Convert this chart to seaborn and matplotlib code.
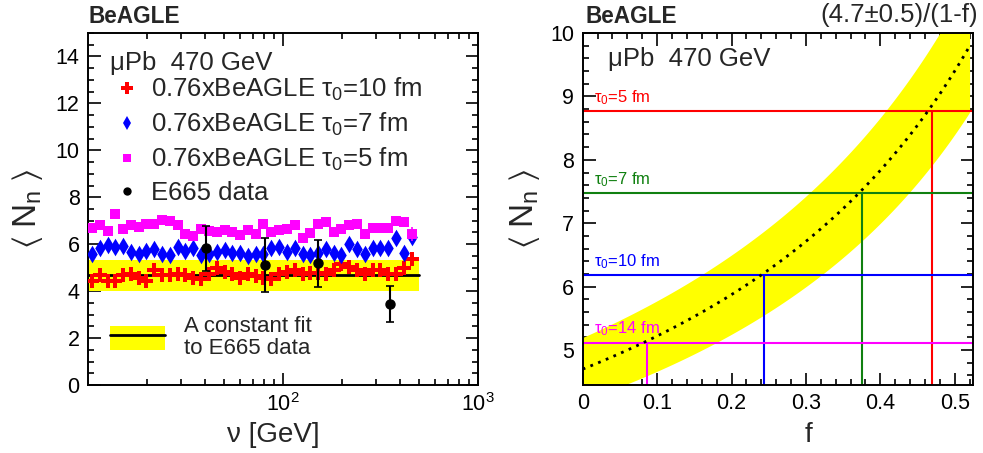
import numpy as np
import pandas as pd
import matplotlib
matplotlib.use("Agg")
import matplotlib.pyplot as plt
import seaborn as sns
from matplotlib.patches import Patch
from matplotlib.lines import Line2D
from matplotlib.legend_handler import HandlerTuple
from matplotlib.ticker import FixedLocator, MultipleLocator, NullFormatter

# ---------------- data ----------------
nu = [10.47, 11.48, 12.59, 13.80, 15.14, 16.60, 18.20, 19.95, 21.88, 23.99,
      26.30, 28.84, 31.62, 34.67, 38.02, 41.69, 45.71, 50.12, 54.95, 60.26,
      66.07, 72.44, 79.43, 87.10, 95.50, 104.7, 114.8, 125.9, 138.0, 151.4,
      166.0, 182.0, 199.5, 218.8, 239.9, 263.0, 288.4, 316.2, 346.7, 380.2,
      416.9, 457.1]
tau10 = [4.45, 4.67, 4.45, 4.45, 4.67, 4.75, 4.57, 4.45, 4.88, 4.68,
         4.68, 4.75, 4.67, 4.57, 4.50, 4.75, 4.97, 4.83, 4.75, 4.57,
         4.75, 4.64, 4.54, 4.50, 4.71, 4.83, 4.88, 4.71, 4.78, 4.78,
         4.75, 4.88, 5.14, 5.02, 4.88, 4.74, 4.88, 4.88, 4.75, 4.74,
         4.97, 5.35]
tau7 = [5.57, 5.82, 5.97, 5.88, 5.92, 5.67, 5.57, 5.71, 5.78, 5.57,
        5.52, 5.88, 5.71, 5.82, 5.52, 5.60, 5.67, 5.74, 5.61, 5.61,
        5.50, 5.57, 5.60, 5.82, 5.88, 5.68, 5.82, 5.57, 5.52, 5.61,
        5.78, 5.61, 5.52, 6.00, 5.78, 5.57, 5.82, 5.82, 5.85, 6.25,
        5.61, 6.31]
tau5 = [6.71, 6.81, 6.57, 7.28, 6.64, 6.81, 6.74, 6.85, 6.85, 7.02,
        6.97, 6.81, 6.42, 6.33, 6.64, 6.57, 6.54, 6.60, 6.50, 6.38,
        6.61, 6.45, 6.88, 6.54, 6.60, 6.64, 6.81, 6.28, 6.47, 6.85,
        6.95, 6.50, 6.64, 6.82, 6.88, 6.42, 6.71, 6.71, 6.71, 6.97,
        6.93, 6.45]
last_err = [0.20, 0.30, 0.30]  # error on last point of tau10, tau7, tau5

e665_nu = [40.3, 80.9, 150.7, 354.0]
e665_val = [5.82, 5.11, 5.18, 3.47]
e665_err = [0.97, 1.15, 1.02, 0.77]

fit_value = 4.67
fit_err = 0.67
fit_range = [10, 500]

# right panel
f_par, f_err = 4.7, 0.5
f_max = 0.52
tau_labels = ["τ$_0$=5 fm", "τ$_0$=7 fm", "τ$_0$=10 fm", "τ$_0$=14 fm"]
tau_levels = [8.77, 7.48, 6.18, 5.12]
tau_f = [0.469, 0.376, 0.244, 0.086]
tau_colors = ["#ff0000", "#108010", "#0000ff", "#ff00ff"]

# ---------------- style ----------------
sns.set_theme(style="ticks")
plt.rcParams["font.family"] = ["Liberation Sans", "DejaVu Sans"]
plt.rcParams["mathtext.fontset"] = "custom"
plt.rcParams["mathtext.rm"] = "Liberation Sans"
plt.rcParams["mathtext.it"] = "Liberation Sans:italic"
plt.rcParams["mathtext.default"] = "regular"
plt.rcParams["axes.linewidth"] = 1.4
plt.rcParams["axes.edgecolor"] = "black"

FS = 18.5     # legend / annotation text
TFS = 15.5    # tick labels
W, H = 983, 453
fig = plt.figure(figsize=(W / 100, H / 100), dpi=100)

def ax_rect(l, r, t, b):
    return [l / W, (H - b) / H, (r - l) / W, (b - t) / H]

axL = fig.add_axes(ax_rect(88, 478, 33, 385))
axR = fig.add_axes(ax_rect(582.7, 973.3, 33, 385))

for ax in (axL, axR):
    ax.tick_params(which="both", direction="in", top=True, right=True,
                   colors="black", labelsize=TFS, width=1.2)
    ax.tick_params(which="major", length=9, pad=6)
    ax.tick_params(which="minor", length=4.5)
    for s in ax.spines.values():
        s.set_linewidth(1.4)
        s.set_color("black")

# ---------------- left panel ----------------
axL.set_xscale("log")
axL.set_xlim(10, 1000)
axL.set_ylim(0, 15)
axL.fill_between(fit_range, fit_value - fit_err, fit_value + fit_err,
                 color="#ffff00", lw=0, zorder=1)
axL.plot(fit_range, [fit_value, fit_value], color="black", lw=2, zorder=2)

df = pd.DataFrame({"nu": nu * 3, "val": tau10 + tau7 + tau5,
                   "series": ["t10"] * len(nu) + ["t7"] * len(nu) + ["t5"] * len(nu)})
sty = {"t10": ("P", "#ff0000", 105), "t7": ("d", "#0000ff", 80), "t5": ("s", "#ff00ff", 52)}
for (key, (mk, col, sz)), err in zip(sty.items(), last_err):
    sub = df[df.series == key]
    sns.scatterplot(data=sub, x="nu", y="val", marker=mk, color=col, s=sz,
                    linewidth=0, ax=axL, zorder=3)
    axL.errorbar(sub.nu.iloc[-1], sub.val.iloc[-1], yerr=err, fmt="none",
                 ecolor=col, elinewidth=1.2, zorder=3)

axL.errorbar(e665_nu, e665_val, yerr=e665_err, fmt="o", color="black",
             ms=6.5, elinewidth=1.5, capsize=3, capthick=1.2, zorder=4)

axL.xaxis.set_major_locator(FixedLocator([100, 1000]))
axL.xaxis.set_minor_locator(FixedLocator([20, 30, 40, 50, 60, 70, 80, 90,
                                          200, 300, 400, 500, 600, 700, 800, 900]))
axL.xaxis.set_minor_formatter(NullFormatter())
axL.set_xticklabels(["$10^{2}$", "$10^{3}$"])
axL.yaxis.set_major_locator(MultipleLocator(2))
axL.yaxis.set_minor_locator(MultipleLocator(0.5))
axL.set_xlabel("")
axL.set_ylabel("")

# legend
h_red = Line2D([], [], marker="P", color="#ff0000", ls="none", ms=8, mew=0)
h_blue = Line2D([], [], marker="d", color="#0000ff", ls="none", ms=7, mew=0)
h_mag = Line2D([], [], marker="s", color="#ff00ff", ls="none", ms=6, mew=0)
h_blk = Line2D([], [], marker="o", color="black", ls="none", ms=6, mew=0)
leg1 = axL.legend([h_red, h_blue, h_mag, h_blk],
                  ["0.76xBeAGLE τ$_0$=10 fm", "0.76xBeAGLE τ$_0$=7 fm",
                   "0.76xBeAGLE τ$_0$=5 fm", "E665 data"],
                  loc="upper left", bbox_to_anchor=(0.067, 0.878), frameon=False,
                  fontsize=FS, handlelength=1.0, handletextpad=0.44,
                  labelspacing=0.3, borderpad=0, borderaxespad=0)
axL.add_artist(leg1)
h_band = (Patch(facecolor="#ffff00", edgecolor="none"),
          Line2D([], [], color="black", lw=2))
leg2 = axL.legend([h_band], ["A constant fit\nto E665 data"],
                  handler_map={tuple: HandlerTuple(ndivide=1)},
                  loc="lower left", bbox_to_anchor=(0.056, 0.075), frameon=False,
                  fontsize=16, handlelength=2.5, handleheight=1.3, handletextpad=0.85,
                  borderpad=0, borderaxespad=0)
for t in leg2.get_texts():
    t.set_linespacing(1.05)

axL.text(0.056, 0.915, "μPb  470 GeV", transform=axL.transAxes, fontsize=FS,
         ha="left", va="center")
axL.text(0.0, 1.048, "BeAGLE", transform=axL.transAxes, fontsize=16.3,
         fontweight="bold", ha="left", va="center")
axL.text(0.474, -0.142, "ν [GeV]", transform=axL.transAxes, fontsize=20,
         ha="center", va="center")
ylab = r"$\langle\;$N$_{n}\;\rangle$"
axL.text(-0.154, 0.5, ylab, transform=axL.transAxes,
         fontsize=24, ha="center", va="center", rotation=90)

# ---------------- right panel ----------------
axR.set_xlim(0, 0.525)
axR.set_ylim(4.45, 10)
f_grid = np.linspace(0, f_max, 300)
axR.fill_between(f_grid, (f_par - f_err) / (1 - f_grid), (f_par + f_err) / (1 - f_grid),
                 color="#ffff00", lw=0, zorder=1)
sns.lineplot(x=f_grid, y=f_par / (1 - f_grid), color="black", lw=2,
             linestyle=(0, (1, 2)), ax=axR, zorder=3)
for lab, lev, fx, col in zip(tau_labels, tau_levels, tau_f, tau_colors):
    axR.axhline(lev, color=col, lw=1.5, zorder=2)
    axR.plot([fx, fx], [4.45, lev], color=col, lw=1.5, zorder=2)
    axR.annotate(lab, (0.03, lev), xycoords=("axes fraction", "data"),
                 xytext=(0, 3), textcoords="offset points", color=col,
                 fontsize=12, ha="left", va="bottom")
axR.xaxis.set_major_locator(MultipleLocator(0.1))
axR.xaxis.set_minor_locator(MultipleLocator(0.02))
axR.set_xticks(np.arange(0, 0.51, 0.1))
axR.set_xticklabels(["0", "0.1", "0.2", "0.3", "0.4", "0.5"])
axR.yaxis.set_major_locator(MultipleLocator(1))
axR.yaxis.set_minor_locator(MultipleLocator(0.2))
axR.set_xlabel("")
axR.set_ylabel("")
axR.text(0.065, 0.927, "μPb  470 GeV", transform=axR.transAxes, fontsize=FS,
         ha="left", va="center")
axR.text(0.006, 1.048, "BeAGLE", transform=axR.transAxes, fontsize=16.3,
         fontweight="bold", ha="left", va="center")
axR.text(1.012, 1.05, "(4.7±0.5)/(1-f)", transform=axR.transAxes, fontsize=FS,
         ha="right", va="center")
axR.text(0.577, -0.142, "f", transform=axR.transAxes, fontsize=20,
         ha="center", va="center")
axR.text(-0.148, 0.5, ylab, transform=axR.transAxes,
         fontsize=24, ha="center", va="center", rotation=90)

fig.savefig("out.png", dpi=100)
